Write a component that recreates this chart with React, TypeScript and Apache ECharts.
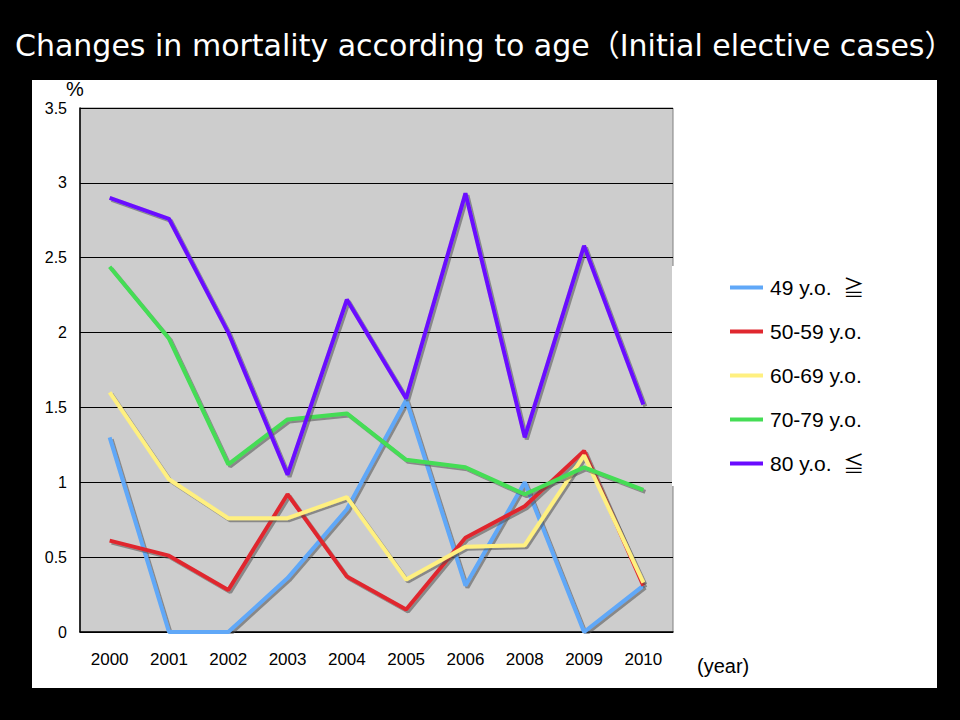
import React, { useEffect, useRef } from "react";
import * as echarts from "echarts";

const years = ["2000", "2001", "2002", "2003", "2004", "2005", "2006", "2008", "2009", "2010"];
const seriesNames = ["49 y.o.  ≧", "50-59 y.o.", "60-69 y.o.", "70-79 y.o.", "80 y.o.  ≦"];
const under49 = [1.3, 0, 0, 0.36, 0.82, 1.55, 0.31, 1.0, 0, 0.31];
const age50s = [0.61, 0.51, 0.28, 0.92, 0.37, 0.15, 0.63, 0.84, 1.21, 0.31];
const age60s = [1.6, 1.02, 0.76, 0.76, 0.9, 0.35, 0.57, 0.58, 1.18, 0.33];
const age70s = [2.44, 1.96, 1.12, 1.42, 1.46, 1.15, 1.1, 0.92, 1.1, 0.95];
const over80 = [2.9, 2.76, 2.0, 1.05, 2.22, 1.56, 2.93, 1.3, 2.58, 1.52];
const seriesData = [under49, age50s, age60s, age70s, over80];
const colors = ["#60a8f8", "#e0282f", "#fff080", "#44dd55", "#6a0aff"];
const legendTops = [272, 316, 360, 404, 448];

const FONT = "'Liberation Sans', Arial, 'Noto Sans CJK JP', sans-serif";

export default function App() {
  const ref = useRef<HTMLDivElement>(null);
  useEffect(() => {
    if (!ref.current) return;
    const chart = echarts.init(ref.current, undefined, { renderer: "svg" });
    chart.setOption({
      animation: false,
      backgroundColor: "#000000",
      title: {
        text: "Changes in mortality according to age（Initial elective cases）",
        left: 10,
        top: 25,
        textStyle: {
          color: "#ffffff",
          fontSize: 30,
          fontWeight: "normal",
          fontFamily: "'DejaVu Sans', 'Noto Sans CJK JP', sans-serif",
        },
      },
      graphic: [
        { type: "rect", z: -10, shape: { x: 32, y: 80, width: 905, height: 608 }, style: { fill: "#ffffff" } },
        { type: "rect", z: 1, shape: { x: 672, y: 266, width: 265, height: 220 }, style: { fill: "#ffffff" } },
        {
          type: "text",
          left: 697,
          top: 656,
          style: { text: "(year)", fill: "#000", fontSize: 20, fontFamily: FONT },
        },
      ],
      legend: seriesNames.map((n, i) => ({
        data: [n],
        left: 725,
        top: legendTops[i],
        orient: "vertical",
        icon: "rect",
        itemWidth: 33,
        itemHeight: 4,
        textStyle: { color: "#000", fontSize: 21, fontFamily: FONT, padding: [7, 0, 0, 2] },
        selectedMode: false,
      })),
      grid: {
        left: 80,
        top: 108,
        right: 287,
        bottom: 88,
        show: true,
        backgroundColor: "#cdcdcd",
        borderColor: "#808080",
        borderWidth: 1,
      },
      xAxis: {
        type: "category",
        data: years,
        boundaryGap: true,
        axisLine: { lineStyle: { color: "#000", width: 1.5 } },
        axisTick: { inside: true, length: 6, lineStyle: { color: "#000" } },
        axisLabel: { color: "#000", fontSize: 17, margin: 19, fontFamily: FONT },
      },
      yAxis: {
        type: "value",
        min: 0,
        max: 3.5,
        interval: 0.5,
        name: "%",
        nameGap: 9,
        nameTextStyle: { color: "#000", fontSize: 20, fontFamily: FONT, padding: [0, 10, 0, 0] },
        axisLine: { show: true, lineStyle: { color: "#000", width: 1.5 } },
        axisTick: { show: false },
        splitLine: { lineStyle: { color: "#000", width: 1 } },
        axisLabel: { color: "#000", fontSize: 16, margin: 13, fontFamily: FONT },
      },
      series: seriesNames.map((n, i) => ({
        name: n,
        type: "line",
        data: seriesData[i],
        symbol: "none",
        z: 3,
        itemStyle: { color: colors[i] },
        lineStyle: {
          color: colors[i],
          width: 4,
          shadowColor: "rgba(80,80,80,0.55)",
          shadowBlur: 1,
          shadowOffsetX: 2,
          shadowOffsetY: 2,
        },
      })),
    });
    return () => chart.dispose();
  }, []);
  return <div ref={ref} style={{ position: "fixed", left: 0, top: 0, width: 960, height: 720 }} />;
}
